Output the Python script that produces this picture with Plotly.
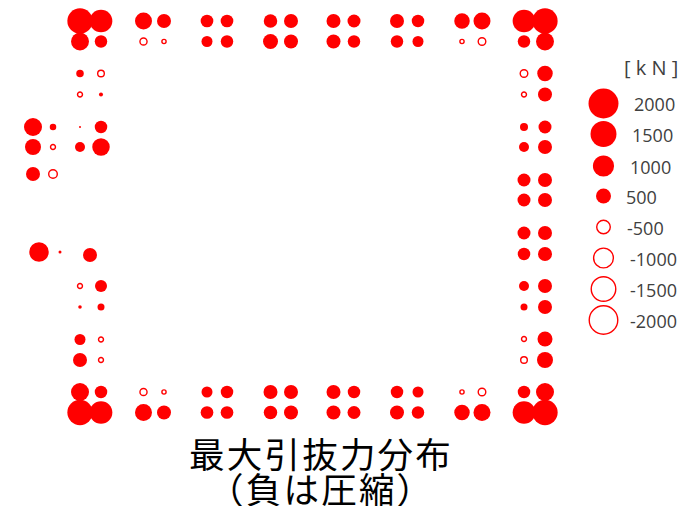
import plotly.graph_objects as go

# plan positions of the measuring points (drawing units)
top_x = [80, 101, 143.5, 164, 207, 227, 270.5, 291, 333.5, 354, 397, 418, 462, 482, 524, 545]
row_y21 = [1426, 1148, 644, 437, 359, 359, 406, 437, 437, 376, 437, 348, 535, 644, 1148, 1426]
row_y41 = [722, 348, -161, -70, 270, 348, 501, 437, 437, 348, 348, 270, -70, -180, 348, 722]
row_y392 = [722, 348, -161, -70, 270, 348, 437, 437, 437, 348, 348, 270, -70, -180, 348, 722]
row_y412 = [1426, 1148, 644, 437, 359, 359, 406, 437, 437, 376, 437, 348, 535, 644, 1148, 1426]

left_y = [73.5, 94.5, 127, 147, 286, 307, 339.5, 360]
left_col_80 = [125, -90, 9, 223, -90, 28, 270, 437]
left_col_101 = [-143, 36, 348, 682, 321, 109, -90, -90]

wing_y = [127, 147, 174]
wing_col_33 = [722, 570, 437]
wing_col_53 = [94, -90, -223]

mid_x = [39, 60, 90]
mid_y = [252, 252, 255]
mid_vals = [847, 20, 437]

right_y = [73.5, 94.5, 127, 147, 180, 200, 233, 254, 286, 307, 339, 360]
right_col_524 = [-180, -90, 143, 223, 376, 376, 376, 348, 223, 109, -90, -143]
right_col_545 = [535, 437, 376, 437, 437, 437, 437, 437, 437, 437, 501, 570]

legend_values = [2000, 1500, 1000, 500, -500, -1000, -1500, -2000]
legend_labels = ["2000", "1500", "1000", "500", "-500", "-1000", "-1500", "-2000"]
legend_y = [103.5, 134, 166, 196, 227, 258, 289, 320]
legend_x = 603.5
legend_label_x = [632, 630, 628, 624, 625, 628, 628, 628]

RED = "#ff0000"
K = 0.67
HAIR = "\u200a"


def dia(v):
    return K * abs(v) ** 0.5


xs, ys, vs = [], [], []
for y, row in [(21, row_y21), (41.5, row_y41), (392, row_y392), (412.5, row_y412)]:
    xs += top_x
    ys += [y] * len(top_x)
    vs += row
for x, col, yy in [(80, left_col_80, left_y), (101, left_col_101, left_y),
                   (33, wing_col_33, wing_y), (53, wing_col_53, wing_y),
                   (524, right_col_524, right_y), (545, right_col_545, right_y)]:
    xs += [x] * len(yy)
    ys += yy
    vs += col
xs += mid_x
ys += mid_y
vs += mid_vals
xs += [legend_x] * len(legend_values)
ys += legend_y
vs += legend_values

pos = [i for i, v in enumerate(vs) if v > 0]
neg = [i for i, v in enumerate(vs) if v < 0]

fig = go.Figure()
fig.add_trace(go.Scatter(
    x=[xs[i] for i in pos], y=[ys[i] for i in pos], mode="markers",
    marker=dict(symbol="circle", color=RED, opacity=1, size=[dia(vs[i]) for i in pos], line=dict(width=0)),
    hoverinfo="skip", showlegend=False,
))
fig.add_trace(go.Scatter(
    x=[xs[i] for i in neg], y=[ys[i] for i in neg], mode="markers",
    marker=dict(symbol="circle", color="rgba(255,255,255,0)", opacity=1,
                size=[dia(vs[i]) - 1.4 for i in neg], line=dict(width=1.4, color=RED)),
    hoverinfo="skip", showlegend=False,
))

annos = []
for lbl, lx, ly in zip(legend_labels, legend_label_x, legend_y):
    annos.append(dict(x=lx, y=ly + 0.5, xref="x", yref="y", text=lbl, showarrow=False, xanchor="left",
                      yanchor="middle", font=dict(family="Open Sans", size=18, color="#404040")))
annos.append(dict(x=651, y=67, xref="x", yref="y", text="[ k N ]", showarrow=False, xanchor="center",
                  yanchor="middle", font=dict(family="Open Sans", size=20, color="#404040")))
annos.append(dict(x=320, y=452, xref="x", yref="y", text=HAIR.join("最大引抜力分布"), showarrow=False,
                  xanchor="center", yanchor="middle",
                  font=dict(family="Noto Sans CJK JP", size=35.5, color="#000000")))
annos.append(dict(x=320, y=487, xref="x", yref="y", text=HAIR.join("（負は圧縮）"), showarrow=False,
                  xanchor="center", yanchor="middle",
                  font=dict(family="Noto Sans CJK JP", size=35.5, color="#000000")))

# page body has an 8 px margin: plot area starts at (8, 8) of the 697x506 window
fig.update_layout(
    width=689, height=498, margin=dict(l=0, r=0, t=0, b=0, autoexpand=False),
    paper_bgcolor="white", plot_bgcolor="white",
    xaxis=dict(range=[8, 697], visible=False, fixedrange=True),
    yaxis=dict(range=[506, 8], visible=False, fixedrange=True),
    annotations=annos, hovermode=False,
)
fig.write_html("out.html", config={"displayModeBar": False})
